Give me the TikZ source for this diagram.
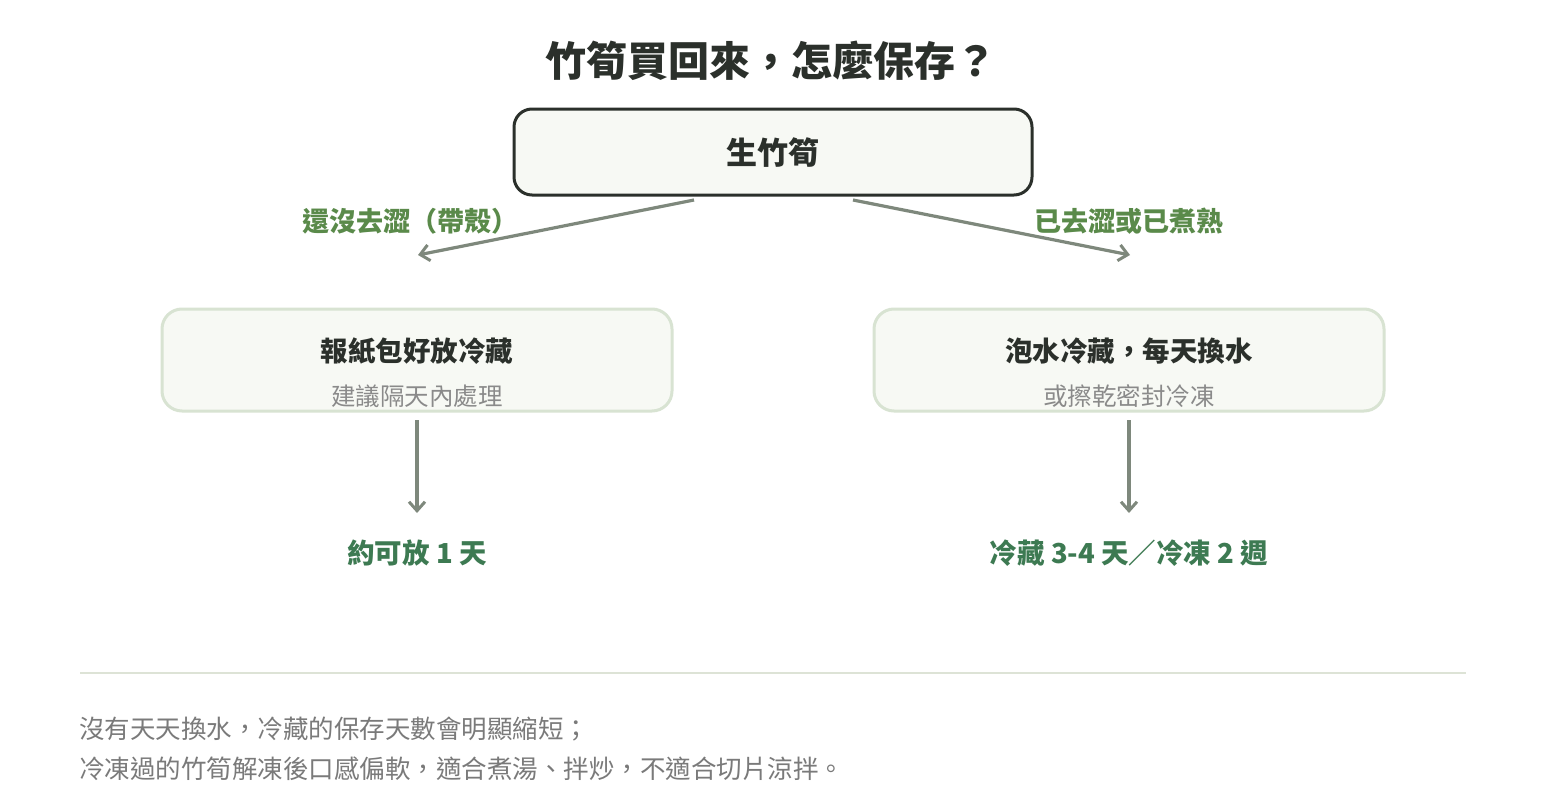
\documentclass[tikz,border=0pt]{standalone}
\usepackage{fontspec}
\setmainfont{Noto Sans CJK TC}
\usetikzlibrary{arrows.meta}
\definecolor{ink}{HTML}{2B302B}
\definecolor{lblgreen}{HTML}{5A8A4A}
\definecolor{resgreen}{HTML}{3D7A52}
\definecolor{boxline}{HTML}{D8E3D2}
\definecolor{boxfill}{HTML}{F7F9F4}
\definecolor{arrowgray}{HTML}{7E887C}
\definecolor{subgray}{HTML}{8A8A8A}
\definecolor{footgray}{HTML}{7A7A7A}
\definecolor{sepline}{HTML}{DDE3D6}
\tikzset{
  fs/.style={font=\fontsize{#1}{#1}\selectfont},
  fsb/.style={font=\fontsize{#1}{#1}\selectfont\bfseries},
  rootbox/.style={draw=ink,line width=3pt,fill=boxfill,rounded corners=18pt,minimum width=518pt,minimum height=86pt,inner sep=0pt},
  leafbox/.style={draw=boxline,line width=3pt,fill=boxfill,rounded corners=20pt,minimum width=510pt,minimum height=102pt,inner sep=0pt},
  flow/.style={draw=arrowgray,line width=3.2pt,-{Straight Barb[length=9pt,width=16pt,line width=3pt]}},
  txt/.style={inner sep=0pt,anchor=center},
}
\begin{document}
\begin{tikzpicture}[x=1pt,y=-1pt]
\useasboundingbox[fill=white] (0,0) rectangle (1546,800);
% title
\node[txt,fsb=41,text=ink] (title) at (771,61) {竹筍買回來，怎麼保存？};
% root
\node[rootbox] (root) at (773,152) {};
\node[txt,fsb=31,text=ink] (roottxt) at (773,153) {生竹筍};
% leaf boxes
\node[leafbox] (lbox) at (417,360) {};
\node[leafbox] (rbox) at (1129,360) {};
\node[txt,fsb=27.5,text=ink] (ltitle) at (417,351) {報紙包好放冷藏};
\node[txt,fs=24.5,text=subgray] (lsub) at (417,396) {建議隔天內處理};
\node[txt,fsb=27.5,text=ink] (rtitle) at (1129,351) {泡水冷藏，每天換水};
\node[txt,fs=24.5,text=subgray] (rsub) at (1129,396) {或擦乾密封冷凍};
% branch labels
\node[txt,fsb=27,text=lblgreen] (llbl) at (410,221) {還沒去澀（帶殼）};
\node[txt,fsb=27,text=lblgreen] (rlbl) at (1129,221) {已去澀或已煮熟};
% arrows
\coordinate (ls) at (694,200);
\coordinate (le) at (418,255);
\coordinate (rs) at (853,200);
\coordinate (re) at (1130,255);
\draw[flow] (ls) -- (le);
\draw[flow] (rs) -- (re);
% results
\node[txt,fsb=27.5,text=resgreen] (lres) at (417,553) {約可放 1 天};
\node[txt,fsb=27.5,text=resgreen] (rres) at (1129,553) {冷藏 3-4 天／冷凍 2 週};
\draw[flow] (lbox.south |- 0,420) -- (lbox.south |- 0,513);
\draw[flow] (rbox.south |- 0,420) -- (rbox.south |- 0,513);
% separator
\draw[sepline,line width=2pt] (80,673) -- (1466,673);
% footer
\node[txt,anchor=west,fs=25.5,text=footgray] (f1) at (79,729) {沒有天天換水，冷藏的保存天數會明顯縮短；};
\node[txt,anchor=west,fs=25.5,text=footgray] (f2) at (79,769) {冷凍過的竹筍解凍後口感偏軟，適合煮湯、拌炒，不適合切片涼拌。};
\end{tikzpicture}
\end{document}
